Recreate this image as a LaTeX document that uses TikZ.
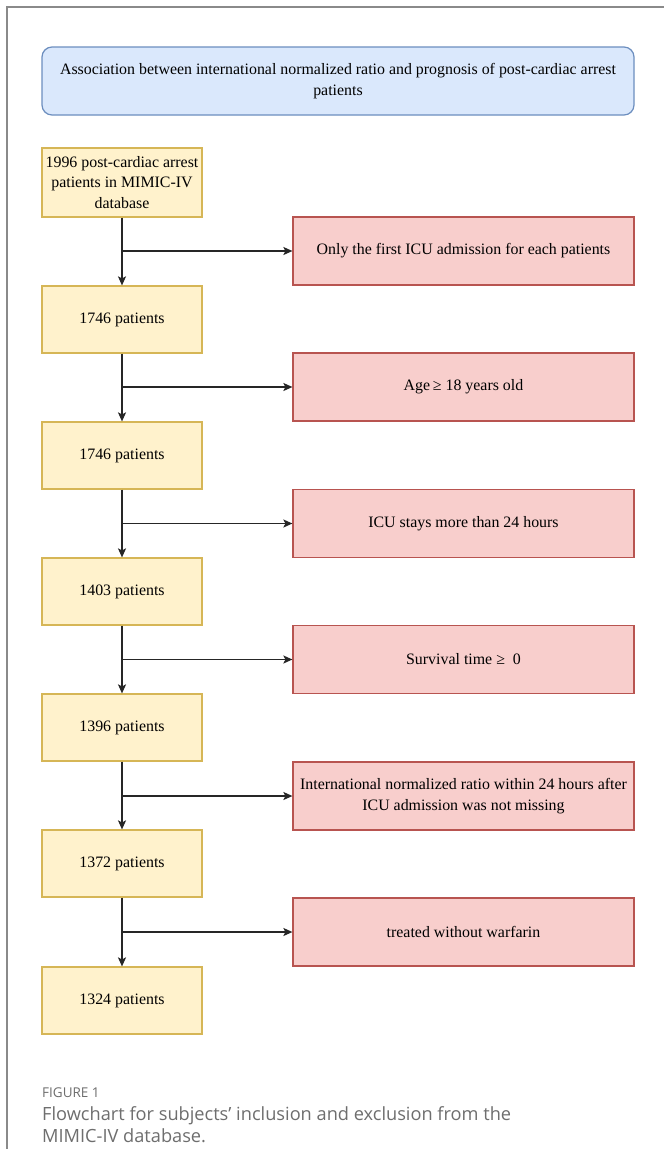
\documentclass[tikz,border=0pt]{standalone}
\usepackage{fontspec}
\setmainfont{Liberation Serif}
\newfontfamily\capfont{Open Sans}
\usetikzlibrary{arrows.meta}
\definecolor{yfill}{HTML}{FFF2CC}
\definecolor{ydraw}{HTML}{D6B656}
\definecolor{rfill}{HTML}{F8CECC}
\definecolor{rdraw}{HTML}{B85450}
\definecolor{bfill}{HTML}{DAE8FC}
\definecolor{bdraw}{HTML}{6C8EBF}
\definecolor{framegray}{HTML}{8A8A8A}
\definecolor{capgray}{HTML}{6E6E6E}
\tikzset{
  boxtext/.style={font=\fontsize{15.9}{20.5}\selectfont, align=center, inner sep=0pt},
  ybox/.style={boxtext, draw=ydraw, fill=yfill, line width=1.2pt, minimum width=160pt, minimum height=67pt},
  rbox/.style={boxtext, draw=rdraw, fill=rfill, line width=1.2pt, minimum width=341pt, minimum height=68pt},
  tbox/.style={boxtext, draw=bdraw, fill=bfill, line width=1.2pt, rounded corners=10pt, minimum width=592pt, minimum height=68pt},
  flow/.style={draw=black!85, line width=1.4pt, -{Stealth[length=9pt,width=8pt,inset=2pt]}},
  captxt/.style={text=capgray, anchor=base west, inner sep=0pt}
}
\begin{document}
\begin{tikzpicture}[x=1pt,y=-1pt]
\useasboundingbox (0,0) rectangle (664,1149);
\fill[white] (0,0) rectangle (664,1149);
\draw[framegray, line width=2pt] (7,1149) -- (7,7) -- (664,7);

\node[tbox] (title) at (338,81) {Association between international normalized ratio and prognosis of post-cardiac arrest\\patients};

\node[ybox, minimum height=69pt] (y1) at (122,182.5) {1996 post-cardiac arrest\\patients in MIMIC-IV\\database};
\node[ybox] (y2) at (122,319.5) {1746 patients};
\node[ybox] (y3) at (122,455.5) {1746 patients};
\node[ybox] (y4) at (122,591.5) {1403 patients};
\node[ybox] (y5) at (122,727.5) {1396 patients};
\node[ybox] (y6) at (122,863.5) {1372 patients};
\node[ybox] (y7) at (122,1000.5) {1324 patients};

\node[rbox] (r1) at (463.5,251) {Only the first ICU admission for each patients};
\node[rbox] (r2) at (463.5,387) {Age{\,}≥ 18 years old};
\node[rbox] (r3) at (463.5,523.5) {ICU stays more than 24 hours};
\node[rbox] (r4) at (463.5,659.5) {Survival time ≥\ \ 0};
\node[rbox] (r5) at (463.5,796) {International normalized ratio within 24 hours after\\ICU admission was not missing};
\node[rbox] (r6) at (463.5,932) {treated without warfarin};

\foreach \a/\b/\r in {y1/y2/r1, y2/y3/r2, y3/y4/r3, y4/y5/r4, y5/y6/r5, y6/y7/r6}{
  \draw[flow] (\a.south) -- (\b.north);
  \coordinate (j\r) at (\a.south |- \r.west);
  \draw[flow] (j\r) -- (\r.west);
}

\node[captxt, font=\capfont\fontsize{13.5}{15}\selectfont] (figlabel) at (42,1097) {FIGURE 1};
\node[captxt, font=\capfont\fontsize{18.2}{22}\selectfont] (cap1) at (42,1120) {Flowchart for subjects’ inclusion and exclusion from the};
\node[captxt, font=\capfont\fontsize{18.2}{22}\selectfont] (cap2) at (42,1142) {MIMIC-IV database.};
\end{tikzpicture}
\end{document}
